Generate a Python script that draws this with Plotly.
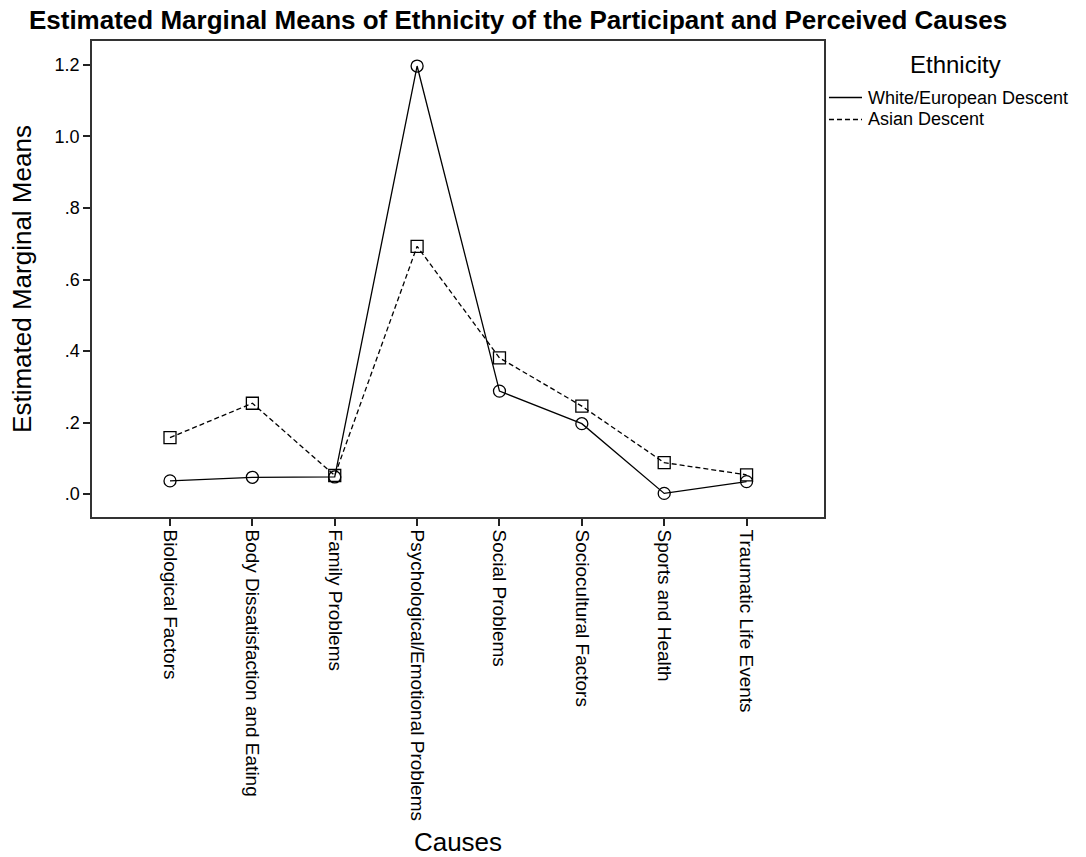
import plotly.graph_objects as go

# Estimated marginal means by perceived cause, split by participant ethnicity
causes = [
    "Biological Factors",
    "Body Dissatisfaction and Eating",
    "Family Problems",
    "Psychological/Emotional Problems",
    "Social Problems",
    "Sociocultural Factors",
    "Sports and Health",
    "Traumatic Life Events",
]
white_means = [0.037, 0.047, 0.048, 1.197, 0.288, 0.197, 0.002, 0.035]
asian_means = [0.158, 0.254, 0.052, 0.693, 0.381, 0.246, 0.088, 0.054]

y_tickvals = [0.0, 0.2, 0.4, 0.6, 0.8, 1.0, 1.2]
y_ticktext = [".0", ".2", ".4", ".6", ".8", "1.0", "1.2"]

legend_title = "Ethnicity"
series_names = ["White/European Descent", "Asian Descent"]

FONT = "Liberation Sans, Arial, Helvetica, sans-serif"
x_idx = list(range(len(causes)))

fig = go.Figure()

series = [
    (series_names[0], white_means, "solid", "circle-open"),
    (series_names[1], asian_means, "5px,3px", "square-open"),
]

# connecting lines
for name, vals, dash, _ in series:
    fig.add_trace(go.Scatter(
        x=x_idx, y=vals, mode="lines", name=name, showlegend=False,
        line=dict(color="black", width=1.3, dash=dash),
        hoverinfo="skip",
    ))

# point markers on top of the lines
for name, vals, _, symbol in series:
    fig.add_trace(go.Scatter(
        x=x_idx, y=vals, mode="markers", name=name, showlegend=False,
        marker=dict(symbol=symbol, size=12, color="black",
                    line=dict(color="black", width=1.3)),
    ))

# compact key to the right of the plot area (paper coordinates)
key_rows = [0.8813, 0.8351]
for (name, _, dash, _), yk in zip(series, key_rows):
    fig.add_shape(type="line", xref="paper", yref="paper",
                  x0=1.0068, x1=1.0519, y0=yk, y1=yk,
                  line=dict(color="black", width=1.3, dash=dash))
    fig.add_annotation(xref="paper", yref="paper", x=1.0574, y=yk,
                       xanchor="left", yanchor="middle", showarrow=False,
                       text=name, font=dict(family=FONT, size=18, color="black"))
fig.add_annotation(xref="paper", yref="paper", x=1.179, y=0.9496,
                   xanchor="center", yanchor="middle", showarrow=False,
                   text=legend_title, font=dict(family=FONT, size=24, color="black"))

fig.update_layout(
    width=1086, height=857,
    margin=dict(l=92, r=262, t=41, b=340),
    paper_bgcolor="white", plot_bgcolor="white",
    font=dict(family=FONT, color="black", size=18),
    title=dict(
        text="<b>Estimated Marginal Means of Ethnicity of the Participant and Perceived Causes</b>",
        x=0.477, xanchor="center", y=0.977, yanchor="middle",
        font=dict(family=FONT, size=26, color="black"),
    ),
    showlegend=False,
)

fig.update_xaxes(
    range=[-0.947, 7.94], automargin=False,
    tickmode="array", tickvals=x_idx, ticktext=causes,
    tickangle=90, ticks="outside", ticklen=7, tickwidth=1.5, tickcolor="#222",
    showline=True, linecolor="#333", linewidth=1.5, mirror=True,
    showgrid=False, zeroline=False,
    tickfont=dict(family=FONT, size=19, color="black"),
    title=dict(text="Causes", font=dict(family=FONT, size=26, color="black"), standoff=46),
)

fig.update_yaxes(
    range=[-0.064, 1.267], automargin=False,
    tickmode="array", tickvals=y_tickvals, ticktext=y_ticktext,
    ticks="outside", ticklen=7, tickwidth=1.5, tickcolor="#222",
    showline=True, linecolor="#333", linewidth=1.5, mirror=True,
    showgrid=False, zeroline=False,
    tickfont=dict(family=FONT, size=18, color="black"),
    title=dict(text="Estimated Marginal Means", font=dict(family=FONT, size=26, color="black"), standoff=16),
)

fig.write_html("out.html")
